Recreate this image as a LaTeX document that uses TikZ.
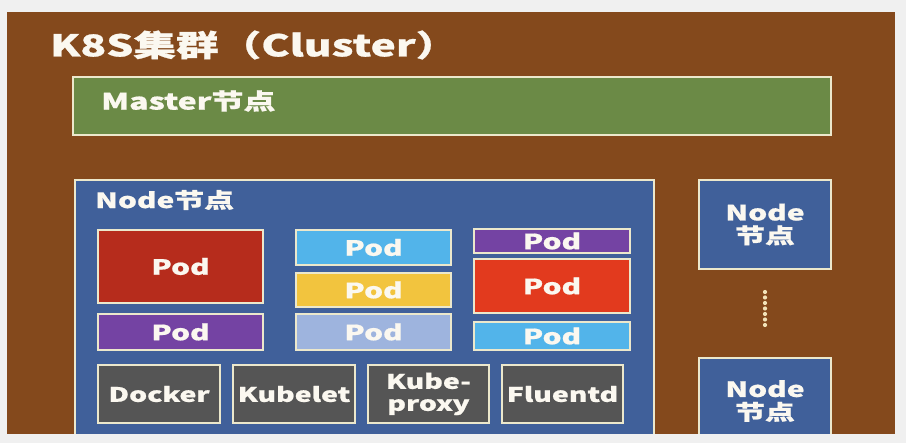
\documentclass[tikz,border=0pt]{standalone}
\usepackage{fontspec}
\newfontfamily\cjk{Noto Sans CJK SC}[FakeStretch=1.42, FakeBold=0.8]
\newcommand\titlefont{\cjk\bfseries\fontsize{30}{34}\selectfont}
\newcommand\labfont{\cjk\bfseries\fontsize{21}{23}\selectfont}
\newcommand\masterfont{\cjk\bfseries\fontsize{22.5}{25}\selectfont}
\newcommand\grayfont{\cjk\bfseries\fontsize{20}{22}\selectfont}
\definecolor{bg}{HTML}{F0F0F0}
\definecolor{brown}{HTML}{84491C}
\definecolor{master}{HTML}{6B8A46}
\definecolor{nodeblue}{HTML}{40609A}
\definecolor{bord}{HTML}{ECE8CC}
\definecolor{dotc}{HTML}{F2E2B8}
\definecolor{txt}{HTML}{FBF8F0}
\definecolor{podred}{HTML}{B62C1C}
\definecolor{podpurple}{HTML}{7443A3}
\definecolor{podsky}{HTML}{52B4EA}
\definecolor{podyellow}{HTML}{F2C43E}
\definecolor{podlav}{HTML}{9EB4DE}
\definecolor{podbright}{HTML}{E23A1E}
\definecolor{comp}{HTML}{555555}
\tikzset{
  box/.style={draw=bord, line width=1.6pt, inner sep=0pt, text=txt, font=\labfont, align=center},
  sz/.style 2 args={minimum width=#1pt, minimum height=#2pt},
  pod/.style={box},
  compbox/.style={box, fill=comp, font=\grayfont},
  lbl/.style={anchor=west, inner sep=0pt, text=txt, font=\labfont},
}
\begin{document}
\begin{tikzpicture}[x=1pt, y=-1pt]
\useasboundingbox (0,0) rectangle (906,443);
\fill[bg] (0,0) rectangle (906,443);
\node[fill=brown, inner sep=0pt, sz={888}{422}] (cluster) at (451,223) {};
\node[anchor=west, inner sep=0pt, text=txt, font=\titlefont] (title) at (50,45) {K8S集群（Cluster）};
% master
\node[box, fill=master, sz={758}{58}] (master) at (452,106) {};
\node[lbl, font=\masterfont] (mlabel) at (101,101) {Master节点};
% main node
\node[box, fill=nodeblue, sz={579}{262}] (node1) at (364.5,311) {};
\node[lbl] (nlabel) at (95,200) {Node节点};
% pods
\node[pod, fill=podred, sz={165}{73}] (p1) at (180.5,266.5) {Pod};
\node[pod, fill=podpurple, sz={165}{36}] (p2) at (180.5,332) {Pod};
\node[pod, fill=podsky, sz={155}{35}] (p3) at (373.5,247.5) {Pod};
\node[pod, fill=podyellow, sz={155}{34}] (p4) at (373.5,290) {Pod};
\node[pod, fill=podlav, sz={155}{36}] (p5) at (373.5,332) {Pod};
\node[pod, fill=podpurple, sz={156}{24}] (p6) at (552,241) {Pod};
\node[pod, fill=podbright, sz={156}{54}] (p7) at (552,286) {Pod};
\node[pod, fill=podsky, sz={156}{28}] (p8) at (552,336) {Pod};
% components
\node[compbox, sz={122}{58}] (docker) at (159,394) {Docker};
\node[compbox, sz={122}{58}] (kubelet) at (294,394) {Kubelet};
\node[compbox, sz={121}{58}] (proxy) at (428.5,394) {Kube-\\proxy};
\node[compbox, sz={121}{58}] (fluentd) at (562.5,394) {Fluentd};
% right nodes
\node[box, fill=nodeblue, sz={132}{89}] (node2) at (765,224.5) {Node\\节点};
\node[box, fill=nodeblue, sz={132}{90}] (node3) at (765,403) {};
\node[inner sep=0pt, text=txt, font=\labfont, align=center] (n3label) at (765,401) {Node\\节点};
% dots
\foreach \i in {0,...,6} \fill[dotc] (765,292+5.5*\i) circle (2.1);
% bottom strip
\fill[bg] (0,434) rectangle (906,443);
\end{tikzpicture}
\end{document}
